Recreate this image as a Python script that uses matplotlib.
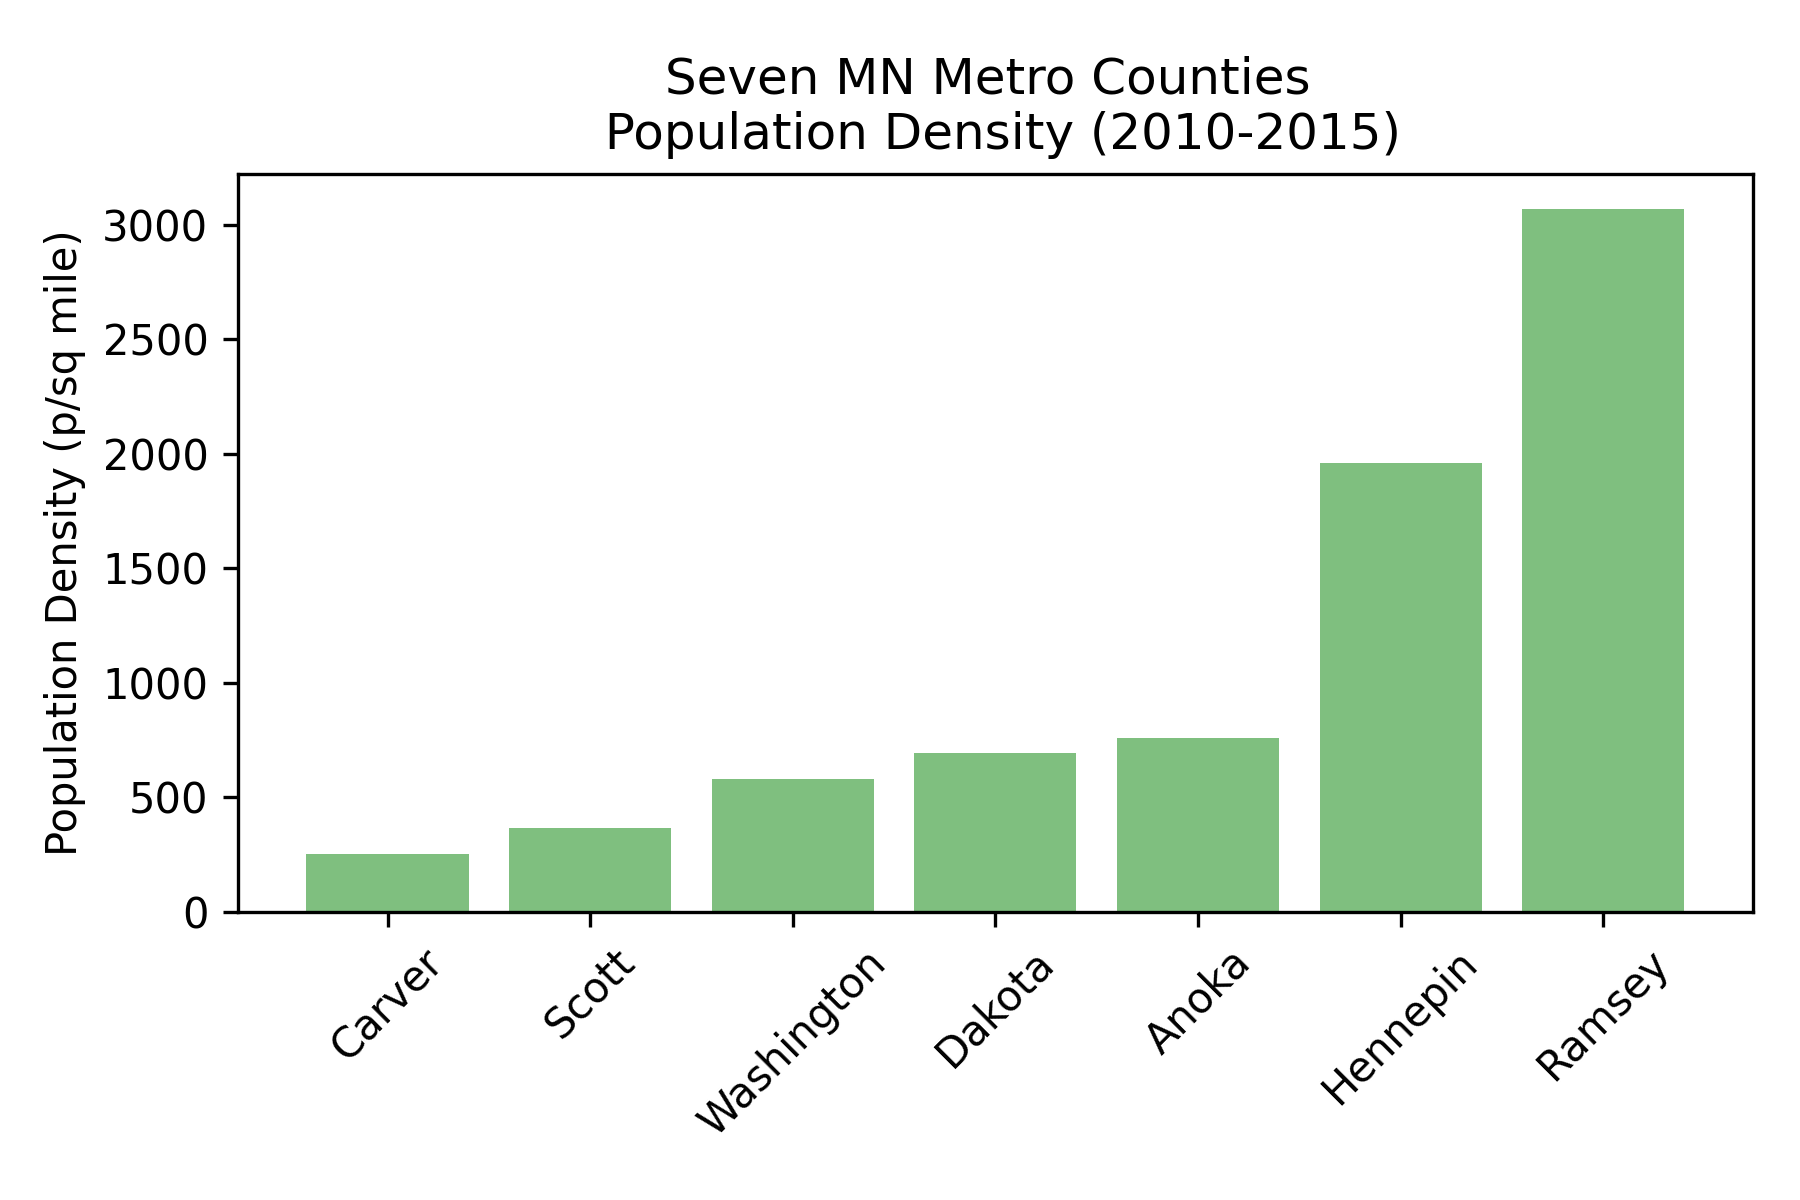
import numpy as np
import matplotlib.pyplot as plt

counties = ['Carver', 'Scott', 'Washington', 'Dakota', 'Anoka', 'Hennepin', 'Ramsey']
density = [254, 368, 582, 695, 760, 1960, 3068]

fig = plt.figure(figsize=(6, 4), dpi=300)
ax = fig.add_subplot(111)
x = np.arange(len(counties))
ax.bar(x, density, color='g', alpha=0.5, align='center')
ax.set_xticks(x)
ax.set_xticklabels(counties, rotation=45)
ax.set_ylabel('Population Density (p/sq mile)')
ax.set_title('Seven MN Metro Counties \n Population Density (2010-2015)')
fig.subplots_adjust(left=0.132, right=0.974, top=0.855, bottom=0.240)
fig.savefig('out.png', dpi=300)
